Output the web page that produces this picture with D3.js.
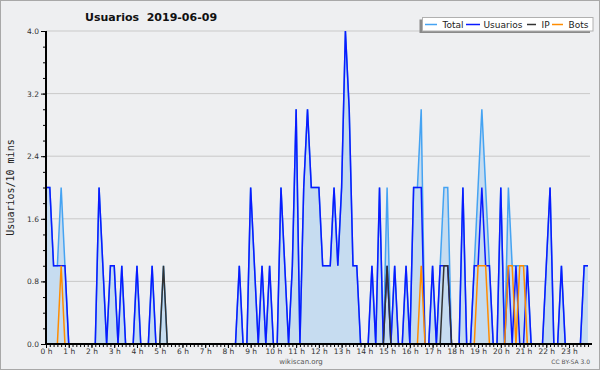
<!DOCTYPE html>
<html><head><meta charset="utf-8">
<script src="https://cdn.jsdelivr.net/npm/d3@7"></script>
<style>
html,body{margin:0;padding:0;background:#eeeff1;}
svg{display:block;}
</style></head>
<body>
<svg id="c" width="600" height="370" font-family="DejaVu Sans, sans-serif"></svg>
<script>
// 144 ten-minute slots, listed hour by hour (6 values per hour)
const hours = d3.range(0, 24);
const hourLabels = hours.map(h => h + " h");
const yTicks = [0.0, 0.8, 1.6, 2.4, 3.2, 4.0];
const seriesNames = ["Total", "Usuarios", "IP", "Bots"];

const total = [
 2,2,1,1,2,1, 0,0,0,0,0,0, 0,0,2,1,0,1, 1,0,1,0,0,0,
 1,0,0,0,1,0, 0,1,0,0,0,0, 0,0,0,0,0,0, 0,0,0,0,0,0,
 0,0,0,1,0,0, 2,1,0,1,0,1, 0,0,2,1,0,1, 3,0,2,3,2,2,
 2,1,1,1,2,1, 2,4,3,1,1,0, 0,0,1,0,2,0, 2,0,1,0,0,1,
 0,2,2,3,0,0, 1,0,1,2,2,0, 0,0,2,0,0,1, 2,3,2,1,0,0,
 2,0,2,1,1,1, 1,1,0,0,0,0, 1,2,0,0,1,0, 0,0,0,0,1,1
];
const usuarios = [
 2,2,1,1,1,1, 0,0,0,0,0,0, 0,0,2,1,0,1, 1,0,1,0,0,0,
 1,0,0,0,1,0, 0,0,0,0,0,0, 0,0,0,0,0,0, 0,0,0,0,0,0,
 0,0,0,1,0,0, 2,1,0,1,0,1, 0,0,2,1,0,1, 3,0,2,3,2,2,
 2,1,1,1,2,1, 2,4,3,1,1,0, 0,0,1,0,2,0, 1,0,1,0,0,1,
 0,2,2,2,0,0, 1,0,1,1,1,0, 0,0,2,0,0,1, 1,2,1,1,0,0,
 2,0,1,0,1,0, 0,1,0,0,0,0, 1,2,0,0,1,0, 0,0,0,0,1,1
];
const ip = [
 0,0,0,0,0,0, 0,0,0,0,0,0, 0,0,0,0,0,0, 0,0,0,0,0,0,
 0,0,0,0,0,0, 0,1,0,0,0,0, 0,0,0,0,0,0, 0,0,0,0,0,0,
 0,0,0,0,0,0, 0,0,0,0,0,0, 0,0,0,0,0,0, 0,0,0,0,0,0,
 0,0,0,0,0,0, 0,0,0,0,0,0, 0,0,0,0,0,0, 1,0,0,0,0,0,
 0,0,0,0,0,0, 0,0,0,1,1,0, 0,0,0,0,0,0, 0,0,0,0,0,0,
 0,0,0,0,0,0, 0,0,0,0,0,0, 0,0,0,0,0,0, 0,0,0,0,0,0
];
const bots = [
 0,0,0,0,1,0, 0,0,0,0,0,0, 0,0,0,0,0,0, 0,0,0,0,0,0,
 0,0,0,0,0,0, 0,0,0,0,0,0, 0,0,0,0,0,0, 0,0,0,0,0,0,
 0,0,0,0,0,0, 0,0,0,0,0,0, 0,0,0,0,0,0, 0,0,0,0,0,0,
 0,0,0,0,0,0, 0,0,0,0,0,0, 0,0,0,0,0,0, 0,0,0,0,0,0,
 0,0,0,1,0,0, 0,0,0,0,0,0, 0,0,0,0,0,0, 1,1,1,0,0,0,
 0,0,1,1,0,1, 1,0,0,0,0,0, 0,0,0,0,0,0, 0,0,0,0,0,0
];

const colors = {Total:"#45a3f2", Usuarios:"#0a1aff", IP:"#333333", Bots:"#ff8c00"};
const fillColor = "#c6dcf0";

const svg = d3.select("#c");
const W = 600, H = 370;
const pLeft = 46, pTop = 31, pBottom = 344, pRight = 590;

svg.append("rect").attr("x",0.5).attr("y",0.5).attr("width",W-1).attr("height",H-1)
  .attr("fill","#eeeff1").attr("stroke","#a8a8a8");

const x = d3.scaleLinear().domain([0, 144]).range([pLeft, pLeft + 144*3.79]);
const y = d3.scaleLinear().domain([0, 4]).range([pBottom, pTop]);

// grid
svg.append("g").selectAll("line").data(yTicks.filter(d => d > 0)).join("line")
  .attr("x1", pLeft).attr("x2", pRight)
  .attr("y1", d => y(d)).attr("y2", d => y(d))
  .attr("stroke", "#c9c9c9").attr("stroke-width", 1);

const idx = d3.range(144);
const area = d3.area().x(i => x(i)).y0(y(0)).y1(i => y(total[i]));
const line = arr => d3.line().x(i => x(i)).y(i => y(arr[i]));

svg.append("path").datum(idx).attr("d", area).attr("fill", fillColor);
const lineData = [["Total", total], ["Usuarios", usuarios], ["IP", ip], ["Bots", bots]];
lineData.forEach(([name, arr]) => {
  svg.append("path").datum(idx).attr("d", line(arr))
    .attr("fill","none").attr("stroke", colors[name]).attr("stroke-width", 1.5)
    .attr("stroke-linejoin","miter").attr("stroke-miterlimit", 3);
});

// y axis
const yAxis = d3.axisLeft(y).tickValues(yTicks).tickFormat(d3.format(".1f")).tickSize(5).tickPadding(2);
const gy = svg.append("g").attr("transform", `translate(${pLeft},0)`).call(yAxis);
gy.attr("font-family", null).attr("font-size", null);
gy.select(".domain").remove();
gy.selectAll("text").style("font-size", "7.5px").attr("fill", "#333");
gy.selectAll("line").attr("stroke","#000");
const yMinor = d3.axisLeft(y).tickValues(d3.range(0, 4.01, 0.2)).tickFormat("").tickSize(3);
const gym = svg.append("g").attr("transform", `translate(${pLeft},0)`).call(yMinor);
gym.select(".domain").remove();
gym.selectAll("line").attr("stroke","#000");

// x axis
const xAxis = d3.axisBottom(x).tickValues(hours.map(h => h*6)).tickFormat((d,i) => hourLabels[i]).tickSize(4).tickPadding(1);
const gx = svg.append("g").attr("transform", `translate(0,${pBottom})`).call(xAxis);
gx.attr("font-family", null).attr("font-size", null);
gx.select(".domain").remove();
gx.selectAll("text").style("font-size", "7.5px").attr("fill", "#333");
gx.selectAll("line").attr("stroke","#000");
const xMinor = d3.axisBottom(x).tickValues(d3.range(0, 144)).tickFormat("").tickSize(3);
const gxm = svg.append("g").attr("transform", `translate(0,${pBottom})`).call(xMinor);
gxm.select(".domain").remove();
gxm.selectAll("line").attr("stroke","#000");

// axis lines
svg.append("line").attr("x1", pLeft).attr("x2", pLeft).attr("y1", pTop).attr("y2", pBottom+1)
  .attr("stroke","#000").attr("stroke-width",2);
svg.append("line").attr("x1", pLeft-1).attr("x2", pRight+2).attr("y1", pBottom).attr("y2", pBottom)
  .attr("stroke","#000").attr("stroke-width",2);

// title
svg.append("text").attr("x", 85).attr("y", 21).style("font-size", "11px").style("font-weight","bold")
  .style("white-space","pre").attr("fill","#111").text("Usuarios  2019-06-09");

// y label
svg.append("text").attr("transform", `translate(13.5,${(pTop+pBottom)/2}) rotate(-90)`)
  .attr("text-anchor","middle").style("font-family","'DejaVu Sans Mono', monospace").style("font-size", "10px")
  .attr("fill","#222").text("Usuarios/10 mins");

// legend
svg.append("rect").attr("x", 419.5).attr("y", 19.5).attr("width", 170.5).attr("height", 13.5).attr("fill","#8a8a8a");
svg.append("rect").attr("x", 422.5).attr("y", 17.5).attr("width", 170.5).attr("height", 13.5)
  .attr("fill","#fff").attr("stroke","#b0b0b0");
const legPos = [[425,437,442.5],[466,480,483.5],[527,536,541.5],[552,563,568.5]];
seriesNames.forEach((n, k) => {
  const [a,b,t] = legPos[k];
  svg.append("line").attr("x1",a).attr("x2",b).attr("y1",24.5).attr("y2",24.5)
    .attr("stroke", colors[n]).attr("stroke-width",1.5);
  svg.append("text").attr("x", t).attr("y", 28).style("font-size", "9px").attr("fill","#222").text(n);
});

// footer
svg.append("text").attr("x", 301).attr("y", 364).attr("text-anchor","middle")
  .style("font-size", "7px").attr("fill","#555").text("wikiscan.org");
svg.append("text").attr("x", 590).attr("y", 364).attr("text-anchor","end")
  .style("font-size", "6px").attr("fill","#555").text("CC BY-SA 3.0");
</script>
</body></html>
